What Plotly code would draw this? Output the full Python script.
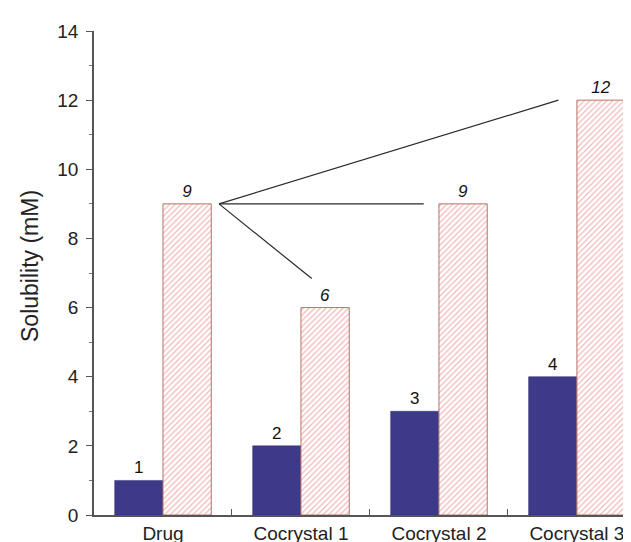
import plotly.graph_objects as go

categories = ["Drug", "Cocrystal 1", "Cocrystal 2", "Cocrystal 3"]
blue_values = [1, 2, 3, 4]
pink_values = [9, 6, 9, 12]
y_tick_vals = [0, 2, 4, 6, 8, 10, 12, 14]
y_title = "Solubility (mM)"

BARGAP = 0.3
BAR_W = (1 - BARGAP) / 2
FONT = "Liberation Sans, Arial, sans-serif"

fig = go.Figure()
fig.add_trace(go.Bar(
    x=categories, y=blue_values, name="blue",
    marker=dict(color="#3E3A8A", line=dict(color="#2E2A70", width=0.5)),
    text=[str(v) for v in blue_values], textposition="outside",
    textfont=dict(family=FONT, size=17, color="#111"),
    cliponaxis=False,
))
fig.add_trace(go.Bar(
    x=categories, y=pink_values, name="pink",
    marker=dict(
        color="white",
        line=dict(color="#B8726A", width=1),
        pattern=dict(shape="/", size=4, solidity=0.3, fgcolor="#E27070", bgcolor="white", fillmode="overlay"),
    ),
    text=[str(v) for v in pink_values], textposition="outside",
    textfont=dict(family=FONT, size=17, color="#111", style="italic"),
    cliponaxis=False,
))

# connector lines from Drug's pink bar to each cocrystal's pink bar
vx = 0 + BAR_W + 0.056
vy = pink_values[0]
ends = [
    (1 + 0.078, pink_values[1] + 0.84),
    (2 - 0.11, pink_values[2]),
    (3 - 0.134, pink_values[3]),
]
for ex, ey in ends:
    fig.add_shape(type="line", xref="x", yref="y", x0=vx, y0=vy, x1=ex, y1=ey,
                  line=dict(color="#2a2a2a", width=1.2))

fig.add_annotation(
    text=y_title, textangle=-90, showarrow=False,
    xref="paper", yref="paper", x=(22 - 86) / 545, y=(507 - 258) / 484,
    xanchor="center", yanchor="middle",
    font=dict(family=FONT, size=23, color="#222"),
)

fig.update_layout(
    width=631, height=542,
    margin=dict(l=86, r=0, t=23, b=35),
    paper_bgcolor="white", plot_bgcolor="white",
    barmode="group", bargap=BARGAP, bargroupgap=0,
    showlegend=False,
    font=dict(family=FONT, color="#222"),
)
fig.update_xaxes(
    range=[-0.5, 3.45],
    showline=True, linecolor="#555", linewidth=1.5,
    ticks="inside", tickson="boundaries", ticklen=6, tickcolor="#555", tickwidth=1,
    tickfont=dict(family=FONT, size=19, color="#222"),
    ticklabelstandoff=0,
    showgrid=False, zeroline=False,
)
fig.update_yaxes(
    range=[0, 14],
    tickvals=y_tick_vals, ticktext=[str(v) for v in y_tick_vals],
    showline=True, linecolor="#555", linewidth=1.5,
    ticks="outside", ticklen=6, tickcolor="#555", tickwidth=1,
    minor=dict(ticks="outside", dtick=1, ticklen=3, tickcolor="#777", showgrid=False),
    tickfont=dict(family=FONT, size=19, color="#222"),
    ticklabelstandoff=4,
    showgrid=False, zeroline=False,
)

fig.write_html("out.html")
